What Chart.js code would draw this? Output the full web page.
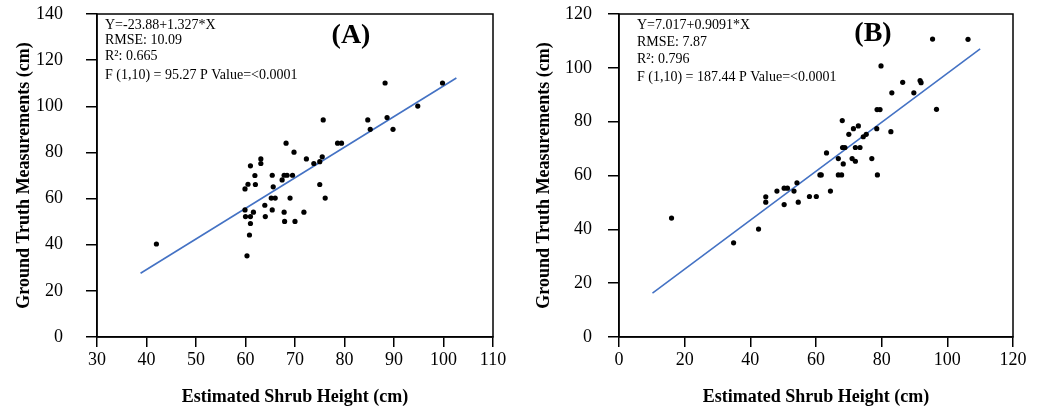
<!DOCTYPE html>
<html>
<head>
<meta charset="utf-8">
<script src="https://cdn.jsdelivr.net/npm/chart.js@4.4.0/dist/chart.umd.min.js"></script>
<style>
  body { margin: 0; background: #fff; }
  #wrap { position: relative; width: 1046px; height: 410px; }
  canvas { position: absolute; top: 0; }
  #chartA { left: 0; }
  #chartB { left: 520px; }
</style>
</head>
<body>
<div id="wrap">
  <canvas id="chartA" width="520" height="410"></canvas>
  <canvas id="chartB" width="526" height="410"></canvas>
</div>
<script>
// panel A: estimated vs measured shrub height
const estA = [42.0, 60.3, 60.8, 61.0, 60.0, 61.0, 59.9, 61.6, 59.9, 60.5, 61.0, 61.9, 62.0, 63.1, 63.1, 63.9, 64.0,
  65.4, 65.6, 65.2, 66.0, 65.4, 67.4, 67.8, 68.4, 68.2, 67.8, 67.9, 69.0, 69.5, 69.8, 70.0, 71.8, 72.3, 73.8,
  75.0, 75.0, 75.5, 75.7, 76.1, 78.6, 79.4, 84.7, 85.2, 88.2, 88.6, 89.8, 94.8, 99.8];
const truthA = [40.3, 35.2, 44.2, 49.2, 52.2, 52.2, 55.1, 54.1, 64.2, 66.2, 74.2, 70.0, 66.1, 77.2, 75.2, 57.1, 52.2,
  70.1, 65.1, 60.2, 60.2, 55.1, 68.1, 70.1, 70.1, 84.0, 54.1, 50.1, 60.2, 70.1, 80.1, 50.1, 54.1, 77.2, 75.2,
  76.0, 66.1, 78.1, 94.1, 60.2, 84.0, 84.0, 94.1, 90.0, 110.1, 95.1, 90.0, 100.1, 110.1];
const fitA = [-23.88, 1.327];      // intercept, slope
const fitRangeA = [38.8, 102.6];
const statsA = ["Y=-23.88+1.327*X", "RMSE: 10.09", "R²: 0.665", "F (1,10) = 95.27 P Value=<0.0001"];

// panel B
const estB = [16.0, 34.9, 42.5, 44.7, 44.7, 48.1, 50.3, 51.3, 50.3, 53.3, 54.2, 54.6, 58.0, 60.1, 61.2, 61.6, 63.2,
  64.4, 66.8, 66.8, 67.8, 68.0, 68.1, 68.8, 68.3, 70.0, 71.4, 71.0, 72.0, 72.0, 73.4, 72.9, 74.4, 75.3, 77.0,
  78.5, 78.7, 78.6, 79.5, 79.8, 82.8, 83.1, 86.4, 89.8, 91.7, 92.0, 95.5, 96.7, 106.3];
const truthB = [44.2, 35.0, 40.1, 52.1, 50.1, 54.2, 55.3, 55.3, 49.2, 54.2, 57.3, 50.1, 52.2, 52.2, 60.2, 60.2, 68.4,
  54.2, 66.3, 60.2, 60.2, 80.4, 70.4, 70.4, 64.3, 75.3, 77.4, 66.3, 65.3, 70.4, 70.4, 78.4, 74.4, 75.3, 66.3,
  77.4, 60.2, 84.5, 84.5, 100.7, 76.3, 90.7, 94.6, 90.7, 95.3, 94.5, 110.7, 84.6, 110.6];
const fitB = [7.017, 0.9091];
const fitRangeB = [10.2, 110.0];
const statsB = ["Y=7.017+0.9091*X", "RMSE: 7.87", "R²: 0.796", "F (1,10) = 187.44 P Value=<0.0001"];

const FONT = "'Liberation Serif', 'Times New Roman', serif";

// box around the plot area plus the stats text and panel letter
const panelText = {
  id: "panelText",
  afterDraw(chart, args, opts) {
    const { ctx, chartArea: a } = chart;
    ctx.save();
    ctx.strokeStyle = "#000";
    ctx.lineWidth = 1.5;
    ctx.strokeRect(a.left, a.top, a.right - a.left, a.bottom - a.top);
    ctx.fillStyle = "#000";
    ctx.textBaseline = "middle";
    ctx.font = "14px " + FONT;
    opts.lines.forEach((t, i) => ctx.fillText(t, a.left + opts.inset, opts.lineY[i]));
    ctx.font = "bold 28px " + FONT;
    ctx.textAlign = "center";
    ctx.fillText(opts.letter, a.left + 254, opts.letterY);
    ctx.restore();
  }
};

function makeChart(id, est, truth, fit, range, xr, yr, axisW, labelPad, padRight, text) {
  const pts = est.map((x, i) => ({ x: x, y: truth[i] }));
  const line = range.map(x => ({ x: x, y: fit[0] + fit[1] * x }));
  return new Chart(document.getElementById(id), {
    type: "scatter",
    data: {
      datasets: [
        { data: pts, backgroundColor: "#000", borderWidth: 0, pointRadius: 2.6 },
        { data: line, showLine: true, borderColor: "#4472C4", borderWidth: 1.6, pointRadius: 0 }
      ]
    },
    options: {
      responsive: false,
      animation: false,
      layout: { padding: { top: 14, right: padRight, left: 0, bottom: 0 } },
      plugins: { legend: { display: false }, tooltip: { enabled: false }, panelText: text },
      scales: {
        x: {
          type: "linear", min: xr[0], max: xr[1],
          ticks: { stepSize: xr[2], color: "#000", font: { family: FONT, size: 18 }, padding: 2, maxRotation: 0 },
          grid: { drawOnChartArea: false, tickLength: 10, color: "#000", lineWidth: 1.5 },
          border: { color: "#000", width: 1.5 },
          title: { display: true, text: "Estimated Shrub Height (cm)", color: "#000",
                   font: { family: FONT, size: 18, weight: "bold" }, padding: { top: 0, bottom: 2 } },
          afterFit: s => { s.height = 73; s.paddingLeft = 0; s.paddingRight = 0; }
        },
        y: {
          min: yr[0], max: yr[1],
          ticks: { stepSize: yr[2], color: "#000", font: { family: FONT, size: 18 }, padding: labelPad },
          grid: { drawOnChartArea: false, tickLength: 11, color: "#000", lineWidth: 1.5 },
          border: { color: "#000", width: 1.5 },
          title: { display: true, text: "Ground Truth Measurements (cm)", color: "#000",
                   font: { family: FONT, size: 18, weight: "bold" }, padding: { top: 14, bottom: 0 } },
          afterFit: s => { s.width = axisW; s.paddingTop = 0; s.paddingBottom = 0; }
        }
      }
    },
    plugins: [panelText]
  });
}

makeChart("chartA", estA, truthA, fitA, fitRangeA, [30, 110, 10], [0, 140, 20], 97, 23, 27,
  { lines: statsA, inset: 8, lineY: [25, 40, 56, 75], letter: "(A)", letterY: 36 });
makeChart("chartB", estB, truthB, fitB, fitRangeB, [0, 120, 20], [0, 120, 20], 99, 16, 33,
  { lines: statsB, inset: 18, lineY: [25, 42, 59, 77], letter: "(B)", letterY: 34 });
</script>
</body>
</html>
